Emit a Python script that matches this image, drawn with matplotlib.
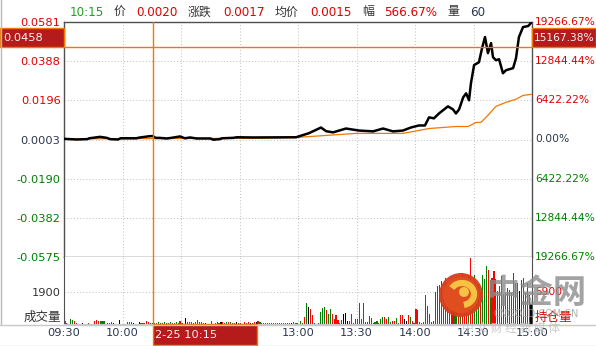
import matplotlib
matplotlib.use('Agg')
import matplotlib.pyplot as plt
from matplotlib.patches import Rectangle, Circle, Arc
from matplotlib.lines import Line2D
from matplotlib.transforms import blended_transform_factory

plt.rcParams['font.family'] = ['DejaVu Sans', 'Noto Sans CJK SC']

# 分时数据：横轴为开盘后的分钟序号（上午 0-120，下午 120-240）
price_x = [0.5, 6.5, 12, 13, 18.5, 22, 23.6, 27.7, 29, 37, 39, 43.7, 45.5, 47, 49,
           52.7, 55, 59.5, 62, 64.6, 68, 75, 76.6, 80, 81, 86.7, 88.6, 97, 119,
           125.6, 131.8, 134.4, 138, 144.6, 151.3, 158.5, 163.6, 168.7, 173.8,
           177.9, 182, 185.1, 187.2, 189.7, 192.3, 196.9, 199.5, 201, 202.6,
           204.7, 206.2, 207.7, 208.7, 210.3, 212.8, 214.4, 215.9, 217.4, 219,
           220, 221.5, 223.1, 225.1, 226.7, 230.3, 231.8, 233.3, 235.4, 238, 239.5]
price_y = [0.0006, 0.0003, 0.0005, 0.0009, 0.0016, 0.0011, 0.0005, 0.0003, 0.0009,
           0.0009, 0.0013, 0.0019, 0.0020, 0.0011, 0.0011, 0.0008, 0.0011, 0.0018,
           0.0009, 0.0013, 0.0008, 0.0008, 0.0002, 0.0005, 0.0009, 0.0011, 0.0014,
           0.0013, 0.0014,
           0.0034, 0.0062, 0.0044, 0.0038, 0.0057, 0.0047, 0.0043, 0.0057, 0.0043,
           0.0047, 0.0062, 0.0072, 0.0072, 0.0112, 0.0107, 0.0131, 0.0166, 0.0151,
           0.0131, 0.0151, 0.0210, 0.0230, 0.0196, 0.0280, 0.0369, 0.0383, 0.0453,
           0.0507, 0.0428, 0.0477, 0.0408, 0.0393, 0.0398, 0.0329, 0.0344, 0.0354,
           0.0403, 0.0507, 0.0556, 0.0561, 0.0576]

avg_x = [0.5, 30, 60, 97, 119, 149.7, 173.8, 187.2, 201, 207.2, 211.3, 213.8,
         217.4, 221.5, 226.7, 231.8, 235.4, 239.5]
avg_y = [0.0006, 0.0007, 0.0008, 0.0009, 0.0013, 0.0033, 0.0033, 0.0057, 0.0067,
         0.0067, 0.0087, 0.0087, 0.0122, 0.0166, 0.0186, 0.0201, 0.0220, 0.0225]

# 每分钟成交量
vol_am = [180, 60, 0, 300, 240, 180, 60, 0, 0, 60, 0, 0, 60, 0, 0, 180, 240, 180, 180, 180,
          180, 0, 60, 60, 120, 60, 0, 0, 240, 0, 0, 0, 120, 120, 120, 60, 0, 0, 120, 60,
          60, 60, 180, 120, 60, 60, 60, 60, 120, 60, 60, 120, 60, 60, 120, 60, 60, 120, 60, 180,
          60, 0, 360, 120, 120, 120, 60, 120, 240, 120, 120, 60, 60, 0, 0, 180, 0, 60, 120, 60,
          120, 120, 60, 120, 120, 120, 60, 60, 120, 60, 60, 0, 120, 60, 120, 60, 60, 120, 120, 180,
          120, 60, 60, 60, 60, 60, 60, 60, 60, 60, 60, 60, 60, 60, 60, 60, 60, 120, 60, 60]
vol_pm = [0, 180, 60, 420, 1260, 1020, 900, 540, 60, 0, 60, 720, 960, 1020, 840, 600, 900, 600, 300, 540,
          240, 60, 240, 600, 660, 180, 180, 600, 60, 300, 300, 1260, 300, 1260, 120, 120, 480, 360, 60, 120,
          180, 60, 300, 420, 420, 300, 420, 120, 180, 180, 360, 60, 540, 540, 300, 180, 540, 420, 180, 60,
          900, 840, 120, 60, 120, 1680, 1080, 600, 120, 180, 1860, 2220, 2280, 2520, 1800, 2700, 2100, 1680, 2400, 1980,
          1500, 2280, 2700, 1800, 3000, 2520, 2160, 2880, 3900, 2400, 2880, 2100, 2340, 1800, 2880, 2640, 3420, 3180, 2580, 2700,
          3120, 2640, 1920, 2220, 2820, 1740, 1800, 2100, 1980, 1800, 3000, 2400, 2400, 1920, 2580, 2700, 1800, 2400, 1680, 1200]
# u 涨 / d 跌 / f 平
vol_dir = ("uufdduddffffuffuuudd" "dfdddffuffffuuufuffu"
           "uduuuudddudduuddudu" "u" "udfduudduuddfdfuduuuf" "udduduufuuuuuufuufudu"
           "duuuudu" "duuduud"
           "fuuufddudfuuudddddud" "duuuuudfffudduuddudd" "duuddudduudduudduuff"
           "udududuuduudduudduduu" "ddudduduuuduudddudddu" "duuuudu" "uuuuuu")

left_ticks = [0.0581, 0.0388, 0.0196, 0.0003, -0.0190, -0.0382, -0.0575]
left_labels = ['0.0581', '0.0388', '0.0196', '0.0003', '-0.0190', '-0.0382', '-0.0575']
right_labels = ['19266.67%', '12844.44%', '6422.22%', '0.00%', '6422.22%', '12844.44%', '19266.67%']
pre_close = 0.0003

time_ticks = [0, 30, 120, 150, 180, 210, 240]
time_labels = ['09:30', '10:00', '13:00', '13:30', '14:00', '14:30', '15:00']
grid_minutes = [30, 60, 90, 120, 150, 180, 210]

vol_tick = 1900
vol_right_tick = '5900'
vol_top = 3940

cursor_min = 45.5
cursor_price = 0.0458
cursor_pct = '15167.38%'
cursor_time = '2-25 10:15'

header_items = ['10:15', '价', '0.0020', '涨跌', '0.0017', '均价', '0.0015', '幅', '566.67%', '量', '60']

RED = '#e00000'
GREEN = '#007f00'
DARK = '#2b3650'
ORANGE = '#f07800'
BOX = '#b51b1b'
DOT = dict(color='#c4c4c4', lw=0.75, ls=(0, (1, 2)))
RFS = 7.7  # 右侧百分比字号

W, H = 596, 346
fig = plt.figure(figsize=(W / 100, H / 100), dpi=100)


def frac(x0, y0, x1, y1):
    return [x0 / W, 1 - y1 / H, (x1 - x0) / W, (y1 - y0) / H]


ax = fig.add_axes(frac(64, 22, 532, 257))
axv = fig.add_axes(frac(64, 257, 532, 324), sharex=ax)

# ---- 价格区 ----
ax.set_xlim(0, 240)
ax.set_ylim(left_ticks[-1], left_ticks[0])
for v in left_ticks[1:-1]:
    ax.axhline(v, **DOT, zorder=0)
for m in grid_minutes:
    ax.axvline(m, **DOT, zorder=0)
    axv.axvline(m, **DOT, zorder=0)

ax.plot(avg_x, avg_y, color=ORANGE, lw=0.9, zorder=3)
ax.plot(price_x, price_y, color='black', lw=1.8, zorder=4)

ax.set_yticks(left_ticks)
ax.set_yticklabels(left_labels)
ax.tick_params(axis='y', length=0, pad=2.5, labelsize=8.2)
ax.tick_params(axis='x', length=0, labelbottom=False)
for lbl, v in zip(ax.get_yticklabels(), left_ticks):
    lbl.set_color(RED if v > pre_close else (GREEN if v < pre_close else DARK))

ytr = ax.get_yaxis_transform()
for v, s in zip(left_ticks, right_labels):
    c = RED if v > pre_close else (GREEN if v < pre_close else DARK)
    ax.text(1.0064, v, s, transform=ytr, ha='left', va='center', fontsize=RFS, color=c)

for side in ['top', 'left', 'right', 'bottom']:
    ax.spines[side].set_color('#505050')
    ax.spines[side].set_linewidth(1)

# ---- 成交量区 ----
bar_x = [i + 0.5 for i in range(len(vol_am) + len(vol_pm))]
vols = vol_am + vol_pm
cmap = {'u': '#ff0000', 'd': '#008000', 'f': '#000000'}
bar_c = [cmap[d] for d in vol_dir[:len(vols)]]
axv.bar(bar_x, vols, width=0.55, color=bar_c, linewidth=0, antialiased=False, zorder=2)
axv.set_ylim(0, vol_top)
axv.axhline(vol_tick, **DOT, zorder=0)
axv.set_yticks([vol_tick])
axv.set_yticklabels([str(vol_tick)])
axv.tick_params(axis='y', length=0, pad=2.5, labelsize=8.2, labelcolor='#333333')
axv.set_xticks(time_ticks)
axv.set_xticklabels(time_labels)
axv.tick_params(axis='x', length=0, pad=3, labelsize=8.2, labelcolor=DARK)
axv.text(-0.006, 0.1, '成交量', transform=axv.transAxes, ha='right', va='center',
         fontsize=9, color='#333333')
axv.text(1.0064, vol_tick, vol_right_tick, transform=axv.get_yaxis_transform(),
         ha='left', va='center', fontsize=RFS, color=RED)
axv.text(1.0064, 0.09, '持仓量', transform=axv.transAxes, ha='left', va='center',
         fontsize=9, color=RED)
axv.spines['top'].set_visible(False)
axv.spines['left'].set_color('#505050')
axv.spines['right'].set_color('#505050')
axv.spines['bottom'].set_color('#c8c8c8')

# ---- 十字光标 ----
ax.axvline(cursor_min, color=ORANGE, lw=1, zorder=5)
axv.axvline(cursor_min, color=ORANGE, lw=1, zorder=5)
ax.axhline(cursor_price, color=ORANGE, lw=1, zorder=5)

px_y = (left_ticks[0] - left_ticks[-1]) / 235.0
ax.add_patch(Rectangle((-64 / 468, cursor_price), 64 / 468, 19 * px_y, transform=ytr,
                       fc=BOX, ec=ORANGE, lw=1, clip_on=False, zorder=6))
ax.text(-61 / 468, cursor_price + 9.5 * px_y, f'{cursor_price:.4f}', transform=ytr,
        ha='left', va='center', fontsize=8.2, color='#f4f4f4', zorder=7)
ax.add_patch(Rectangle((1.0, cursor_price), 64 / 468, 19 * px_y, transform=ytr,
                       fc=BOX, ec=ORANGE, lw=1, clip_on=False, zorder=6))
ax.text(1.0043, cursor_price + 9.5 * px_y, cursor_pct, transform=ytr,
        ha='left', va='center', fontsize=RFS, color='#f4f4f4', zorder=7)

xtr = blended_transform_factory(axv.transData, axv.transAxes)
axv.add_patch(Rectangle((cursor_min, -21 / 67), 104 / 1.95, 21 / 67, transform=xtr,
                        fc=BOX, ec=ORANGE, lw=1, clip_on=False, zorder=6))
axv.text(cursor_min + 1, -10.5 / 67, cursor_time, transform=xtr, ha='left', va='center',
         fontsize=8.2, color='#f4f4f4', zorder=7)

# ---- 覆盖层：边框、标题、水印 ----
ov = fig.add_axes([0, 0, 1, 1])
ov.set_xlim(0, W)
ov.set_ylim(H, 0)
ov.axis('off')
ov.patch.set_alpha(0)

ov.add_line(Line2D([0.5, 0.5], [0, 324], color='#b8b8b8', lw=1))
ov.add_line(Line2D([0, W], [324.5, 324.5], color='#c8c8c8', lw=1))
ov.add_line(Line2D([0, W], [345.5, 345.5], color='#d4d4d4', lw=1))

head_x = [70, 114, 136, 188, 223, 275, 310, 362, 384, 447, 470]
head_c = ['#1fa01f', '#333333', RED, '#333333', RED, '#333333', RED, '#333333', RED, '#333333', DARK]
for s, x, c in zip(header_items, head_x, head_c):
    ov.text(x, 12, s, ha='left', va='center', fontsize=8.6, color=c)

ov.add_patch(Circle((461, 295), 22, fc='#d63c1c', ec='none', alpha=0.95, zorder=8))
ov.add_patch(Circle((461, 295), 18, fc='#e2501f', ec='none', alpha=0.9, zorder=8))
ov.add_patch(Arc((462, 294), 24, 22, theta1=210, theta2=80, color='#f6c244', lw=4.5, zorder=9))
ov.add_patch(Circle((464, 292), 5, fc='#f6c244', ec='none', zorder=9))
ov.text(536, 293, '中金网', ha='center', va='center', fontsize=24, fontweight='bold',
        color='#8c8c8c', alpha=0.8, family=['Noto Sans CJK SC'], zorder=8)
ov.text(536, 314, 'CNGOLD.COM.CN', ha='center', va='center', fontsize=7,
        color='#a0a0a0', alpha=0.8, zorder=8)
ov.text(511, 328, '中 文 财 经 新 媒 体', ha='center', va='center', fontsize=8.5,
        color='#c4c4c4', alpha=0.9, family=['Noto Sans CJK SC'], zorder=8)

fig.savefig('out.png', dpi=100)
